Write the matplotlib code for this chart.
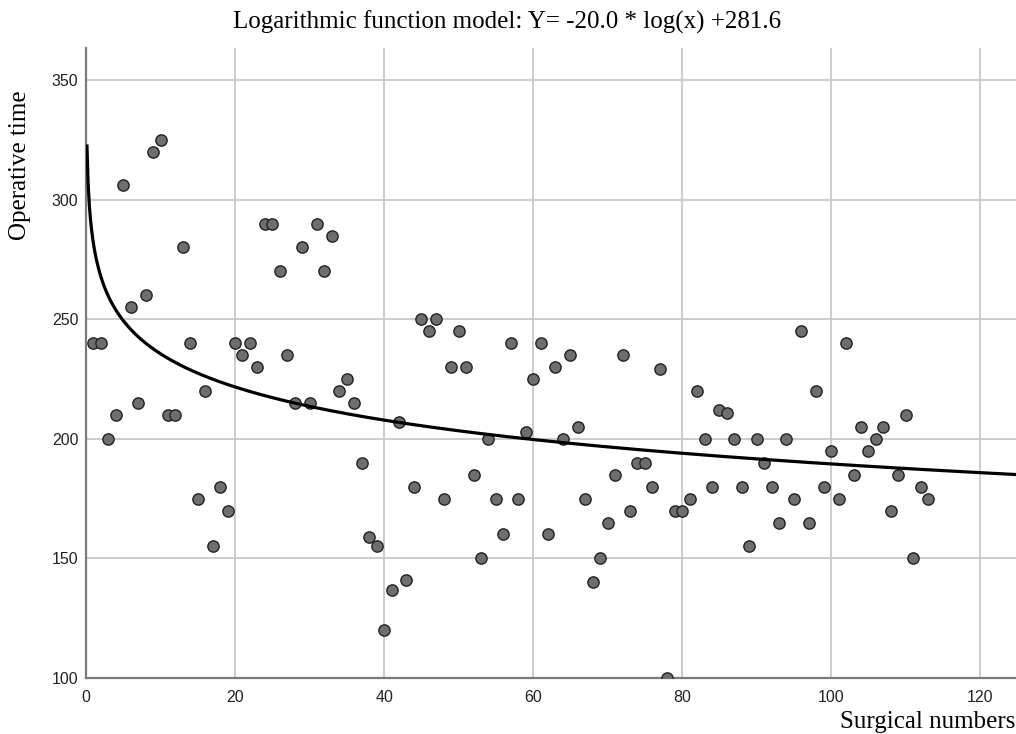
import matplotlib
matplotlib.use("Agg")
import matplotlib.pyplot as plt
import numpy as np

# surgical number -> operative time
surgery_no = list(range(1, 114))
op_time = [240, 240, 200, 210, 306, 255, 215, 260, 320, 325,
           210, 210, 280, 240, 175, 220, 155, 180, 170, 240,
           235, 240, 230, 290, 290, 270, 235, 215, 280, 215,
           290, 270, 285, 220, 225, 215, 190, 159, 155, 120,
           137, 207, 141, 180, 250, 245, 250, 175, 230, 245,
           230, 185, 150, 200, 175, 160, 240, 175, 203, 225,
           240, 160, 230, 200, 235, 205, 175, 140, 150, 165,
           185, 235, 170, 190, 190, 180, 229, 100, 170, 170,
           175, 220, 200, 180, 212, 211, 200, 180, 155, 200,
           190, 180, 165, 200, 175, 245, 165, 220, 180, 195,
           175, 240, 185, 205, 195, 200, 205, 170, 185, 210,
           150, 180, 175]

# model coefficients from the title
coef_b = -20.0
coef_a = 281.6
x_ticks = [0, 20, 40, 60, 80, 100, 120]
y_ticks = [100, 150, 200, 250, 300, 350]

fig = plt.figure(figsize=(10.16, 7.34), dpi=100)
ax = fig.add_axes([86 / 1016, 56 / 734, 930 / 1016, 630 / 734])

ax.set_xlim(0, 124.8)
ax.set_ylim(100, 363.4)

ax.grid(True, color="#c8c8c8", linewidth=1.3)
ax.set_axisbelow(True)
ax.set_xticks(x_ticks)
ax.set_yticks(y_ticks)
ax.tick_params(length=0, labelsize=11.5)
ax.tick_params(axis="y", pad=5.5)
ax.tick_params(axis="x", pad=9)
for lab in ax.get_xticklabels() + ax.get_yticklabels():
    lab.set_fontfamily("Liberation Sans")
    lab.set_color("#222222")

for s in ["top", "right"]:
    ax.spines[s].set_visible(False)
for s in ["left", "bottom"]:
    ax.spines[s].set_color("#7a7a7a")
    ax.spines[s].set_linewidth(1.6)

ax.scatter(surgery_no, op_time, s=66, facecolor="#6e6e6e",
           edgecolor="#222222", linewidth=1.0, zorder=3)

xs = np.linspace(0.13, 124.8, 800)
ax.plot(xs, coef_b * np.log(xs) + coef_a, color="black", linewidth=2.3, zorder=4)

fig.text(507 / 1016, 1 - 22 / 734, "Logarithmic function model: Y= -20.0 * log(x) +281.6",
         ha="center", va="center", fontsize=18, family="Liberation Serif")
fig.text(20 / 1016, 1 - 165 / 734, "Operative time", rotation=90,
         ha="center", va="center", fontsize=18, family="Liberation Serif")
fig.text(840 / 1016, 1 - 728 / 734, "Surgical numbers",
         ha="left", va="baseline", fontsize=18, family="Liberation Serif")

fig.savefig("out.png", dpi=100)
